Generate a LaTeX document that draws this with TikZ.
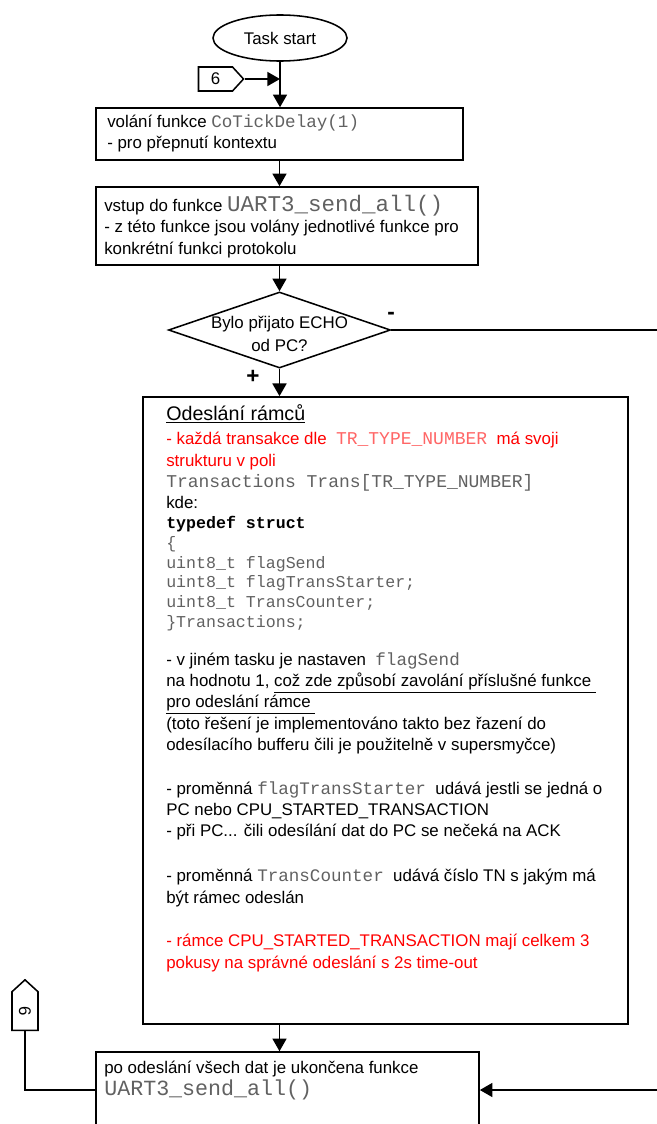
\documentclass[tikz,border=0pt]{standalone}
\usepackage{fontspec}
\setmainfont{Liberation Sans}
\setmonofont{Liberation Mono}
\usetikzlibrary{arrows.meta, positioning, shapes.geometric, shapes.symbols}

\definecolor{codegray}{gray}{0.38}
\definecolor{codered}{rgb}{1,0.4,0.4}
\newcommand{\code}[1]{{\fontsize{12.5}{15.2}\selectfont\ttfamily\color{codegray}#1}}
\newcommand{\bigcode}[1]{{\fontsize{16}{16}\selectfont\ttfamily\color{codegray}#1}}

\tikzset{
  flow/.style={-{Triangle[length=9pt,width=10pt]}, line width=1.1pt},
  wire/.style={line width=1.1pt},
  box/.style={draw, line width=1.1pt, rectangle, inner sep=0pt},
  txt/.style={anchor=north west, inner sep=0pt, align=left,
    font=\fontsize{12}{15.2}\selectfont},
  tag/.style={draw, line width=1.1pt, signal, signal pointer angle=95,
    inner sep=0pt, font=\fontsize{12}{12}\selectfont},
}

\begin{document}
\begin{tikzpicture}[x=0.025cm, y=-0.025cm]
\useasboundingbox (0,0) rectangle (657,1124);
\clip (0,0) rectangle (657,1124);

% Task start and the entry mark
\node[box, ellipse, minimum width=3.35cm, minimum height=1.15cm,
  font=\fontsize{12}{12}\selectfont] (start) at (280,38) {Task start};
\node[tag, signal to=east, minimum width=1.125cm, minimum height=0.6cm]
  (tagin) at (215.5,79) {6};
\draw[flow] (tagin.east) -- (tagin.east -| start.south);

% context switch
\node[box, minimum width=9.175cm, minimum height=1.3cm] (delay) at (279.5,134) {};
\node[txt] (delaytxt) at (107,114)
  {volání funkce \code{CoTickDelay(1)}\\- pro přepnutí kontextu};
\draw[flow] (start.south) -- (start.south |- delay.north);

% entry to UART3_send_all
\node[box, minimum width=9.55cm, minimum height=1.95cm] (entry) at (287,226) {};
\node[txt] (entrytxt) at (104,195)
  {vstup do funkce \bigcode{UART3\_send\_all()}\\
   - z této funkce jsou volány jednotlivé funkce pro\\
   konkrétní funkci protokolu};
\draw[flow] (delay.south) -- (delay.south |- entry.north);

% ECHO decision
\node[draw, diamond, line width=1.1pt, aspect=2.9, inner sep=0pt,
  minimum width=5.55cm, minimum height=1.9cm] (echo) at (279.5,330) {};
\node[align=center, inner sep=0pt, font=\fontsize{12}{16.3}\selectfont]
  (echotxt) at (279.5,334) {Bylo přijato ECHO\\od PC?};
\draw[flow] (delay.south |- entry.south) -- (delay.south |- echo.north);
\coordinate (skipright) at (657,330);
\draw[wire] (echo.east) -- (skipright);
\node[font=\bfseries\fontsize{16}{16}\selectfont] (minus) at (391,316) {-};
\node[font=\bfseries\fontsize{16}{16}\selectfont] (plus) at (253,377) {+};

% sending of frames
\node[box, minimum width=12.125cm, minimum height=15.675cm] (frames) at (385.5,710.5) {};
\draw[flow] (echo.south) -- (echo.south |- frames.north);
\node[txt, font=\fontsize{14}{14}\selectfont] (framehead) at (166,404)
  {\underline{Odeslání rámců}};
\node[txt] (framestruct) at (166,432)
  {\textcolor{red}{- každá transakce dle \ {\fontsize{12.8}{15}\selectfont\ttfamily\color{codered}TR\_TYPE\_NUMBER} \ má svoji}\\
   \textcolor{red}{strukturu v poli}\\
   {\fontsize{12.8}{15}\selectfont\ttfamily\color{codegray}Transactions Trans[TR\_TYPE\_NUMBER]}\\
   kde:\\[-1pt]
   {\fontsize{11.8}{14}\selectfont\ttfamily\bfseries typedef struct}\\[-1.2pt]
   {\fontsize{11.8}{14}\selectfont\ttfamily\color{codegray}\{}\\[-1.2pt]
   {\fontsize{11.8}{14}\selectfont\ttfamily\color{codegray}uint8\_t flagSend}\\[-1.2pt]
   {\fontsize{11.8}{14}\selectfont\ttfamily\color{codegray}uint8\_t flagTransStarter;}\\[-1.2pt]
   {\fontsize{11.8}{14}\selectfont\ttfamily\color{codegray}uint8\_t TransCounter;}\\[-1.2pt]
   {\fontsize{11.8}{14}\selectfont\ttfamily\color{codegray}\}Transactions;}};
\node[txt] (flagpar) at (166,652)
  {- v jiném tasku je nastaven \ \code{flagSend}\\
   na hodnotu 1, \underline{což zde způsobí zavolání příslušné funkce\ }\\
   \underline{pro odeslání rámce\ }\\
   (toto řešení je implementováno takto bez řazení do\\
   odesílacího bufferu čili je použitelně v supersmyčce)};
\node[txt] (starterpar) at (166,781)
  {- proměnná \code{flagTransStarter} \ udává jestli se jedná o\\
   PC nebo CPU\_STARTED\_TRANSACTION\\
   - při PC... čili odesílání dat do PC se nečeká na ACK};
\node[txt] (counterpar) at (166,869)
  {- proměnná \code{TransCounter} \ udává číslo TN s jakým má\\
   být rámec odeslán};
\node[txt, text=red] (retrypar) at (166,934)
  {- rámce CPU\_STARTED\_TRANSACTION mají celkem 3\\
   pokusy na správné odeslání s 2s time-out};

% end of UART3_send_all
\node[box, minimum width=9.575cm, minimum height=1.9cm] (finish) at (287.5,1090) {};
\node[txt] (finishtxt) at (104,1061)
  {po odeslání všech dat je ukončena funkce\\
   {\fontsize{15.4}{15}\selectfont\ttfamily\color{codegray}UART3\_send\_all()}};
\draw[flow] (frames.south -| echo.south) -- (echo.south |- finish.north);
\coordinate (backright) at (657,1090);
\draw[flow] (backright) -- (finish.east);

% exit mark
\node[tag, signal to=north, minimum width=0.65cm, minimum height=1.1cm]
  (tagout) at (25,1011) {\rotatebox{-90}{6}};
\draw[wire] (finish.west) -| (tagout.south);
\end{tikzpicture}
\end{document}
